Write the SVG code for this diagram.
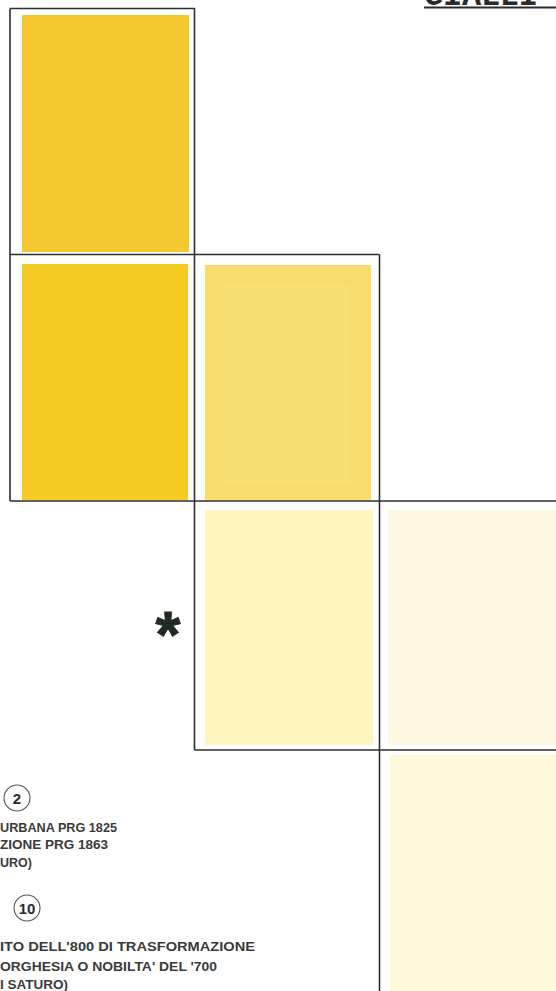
<svg xmlns="http://www.w3.org/2000/svg" width="556" height="991" viewBox="0 0 556 991">
<style>
.frame{fill:none;stroke:#2e2e2e;stroke-width:1.6}
.lbl{font-family:"Liberation Sans","DejaVu Sans",sans-serif;font-size:12.5px;font-weight:bold;fill:#3a3a3a}
.num{font-family:"Liberation Sans","DejaVu Sans",sans-serif;font-size:15px;font-weight:bold;fill:#2a2a2a;text-anchor:middle}
.circ{fill:#fff;stroke:#555;stroke-width:1.1}
</style>
<rect width="556" height="991" fill="#ffffff"/>
<g id="title">
<text x="424" y="5" font-family="Liberation Mono, DejaVu Sans Mono, monospace" font-weight="bold" font-size="32" fill="#2a2a2a" textLength="114">GIALLI</text>
<rect x="424" y="6.5" width="132" height="2" fill="#2a2a2a"/>
</g>
<g id="cell-1">
<rect x="22" y="15" width="167" height="237" fill="#F6C830"/>
</g>
<g id="cell-2">
<rect x="22" y="264" width="166" height="236" fill="#F6CB23"/>
</g>
<g id="cell-3">
<rect x="205" y="265" width="166" height="235" fill="#F8DD6C"/>
<rect x="225" y="285" width="125" height="200" fill="#F9E175" opacity="0.6"/>
</g>
<g id="cell-4">
<rect x="205" y="510" width="168" height="235" fill="#FEF5BF"/>
</g>
<g id="cell-5">
<rect x="388" y="510" width="168" height="235" fill="#FEF8E2"/>
</g>
<g id="cell-6">
<rect x="390" y="755" width="166" height="236" fill="#FEF7D8"/>
</g>
<g id="frames">
<path class="frame" d="M10 8.5H194.5V750M10 8.5V501M10 254.5H379.5M379.5 254.5V991M10 501H556M194.5 750H556"/>
</g>
<g id="asterisk">
<text x="168" y="657" font-family="Liberation Sans, sans-serif" font-weight="bold" font-size="64" fill="#1f2a22" stroke="#1f2a22" stroke-width="1" text-anchor="middle">*</text>
</g>
<g id="legend-2">
<circle class="circ" cx="17" cy="798" r="13"/>
<text class="num" x="17" y="803.5">2</text>
<text class="lbl" x="0" y="832" textLength="117" lengthAdjust="spacingAndGlyphs">URBANA PRG 1825</text>
<text class="lbl" x="0" y="849" textLength="108" lengthAdjust="spacingAndGlyphs">ZIONE PRG 1863</text>
<text class="lbl" x="0" y="867">URO)</text>
</g>
<g id="legend-10">
<circle class="circ" cx="27" cy="908" r="13"/>
<text class="num" x="27" y="913.5">10</text>
<text class="lbl" x="0" y="951" textLength="255" lengthAdjust="spacingAndGlyphs">ITO DELL'800 DI TRASFORMAZIONE</text>
<text class="lbl" x="0" y="971" textLength="217" lengthAdjust="spacingAndGlyphs">ORGHESIA O NOBILTA' DEL '700</text>
<text class="lbl" x="0" y="989" font-weight="900" textLength="68" lengthAdjust="spacingAndGlyphs">I SATURO)</text>
</g>
</svg>
